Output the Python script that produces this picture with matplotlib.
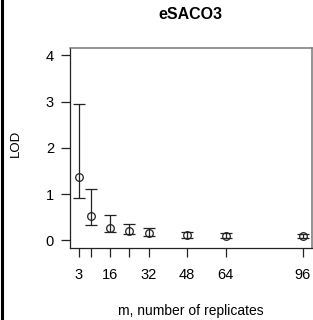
import matplotlib
matplotlib.use("Agg")
import matplotlib.pyplot as plt
from matplotlib.lines import Line2D

plt.rcParams["font.family"] = ["Liberation Sans", "DejaVu Sans"]

# LOD estimates with interval bounds per number of replicates
m_values = [3, 8, 16, 24, 32, 48, 64, 96]
lod = [1.38, 0.53, 0.265, 0.21, 0.16, 0.11, 0.10, 0.085]
lod_low = [0.91, 0.34, 0.17, 0.13, 0.085, 0.05, 0.04, 0.05]
lod_high = [2.95, 1.10, 0.55, 0.36, 0.27, 0.19, 0.15, 0.14]
x_ticks = [3, 8, 16, 24, 32, 48, 64, 96]
x_labels = ["3", "", "16", "", "32", "48", "64", "96"]
y_ticks = [0, 1, 2, 3, 4]

fig = plt.figure(figsize=(3.13, 3.2), dpi=100)
ax = fig.add_axes([0.2236, 0.2259, 0.7722, 0.6241])

err = [[v - lo for v, lo in zip(lod, lod_low)],
       [hi - v for v, hi in zip(lod, lod_high)]]
ax.errorbar(m_values, lod, yerr=err, fmt="none", ecolor="#222222",
            elinewidth=0.9, capsize=4, capthick=0.9)
ax.plot(m_values, lod, "o", mfc="none", mec="#222222", ms=5.5, mew=0.9)

ax.set_xlim(-0.72, 99.72)
ax.set_ylim(-0.16, 4.16)
ax.set_xticks(x_ticks)
ax.set_xticklabels(x_labels)
ax.set_yticks(y_ticks)
ax.tick_params(direction="out", length=6.5, width=0.9, color="#222222",
               labelsize=10.5, pad=8)
ax.tick_params(axis="y", pad=5)

for side in ["top", "right"]:
    ax.spines[side].set_color("#777777")
    ax.spines[side].set_linewidth(1.1)
for side in ["left", "bottom"]:
    ax.spines[side].set_color("#222222")
    ax.spines[side].set_linewidth(0.9)

ax.set_title("eSACO3", fontsize=11.5, fontweight="bold", pad=21)
ax.set_xlabel("m, number of replicates", fontsize=10, labelpad=16)
ax.set_ylabel("LOD", fontsize=9.5)
ax.yaxis.set_label_coords(-0.2, 0.52)

# black border on the left edge of the panel
fig.add_artist(Line2D([0.006, 0.006], [0, 1], color="black", lw=2.2,
                      transform=fig.transFigure))

fig.savefig("out.png", dpi=100)
